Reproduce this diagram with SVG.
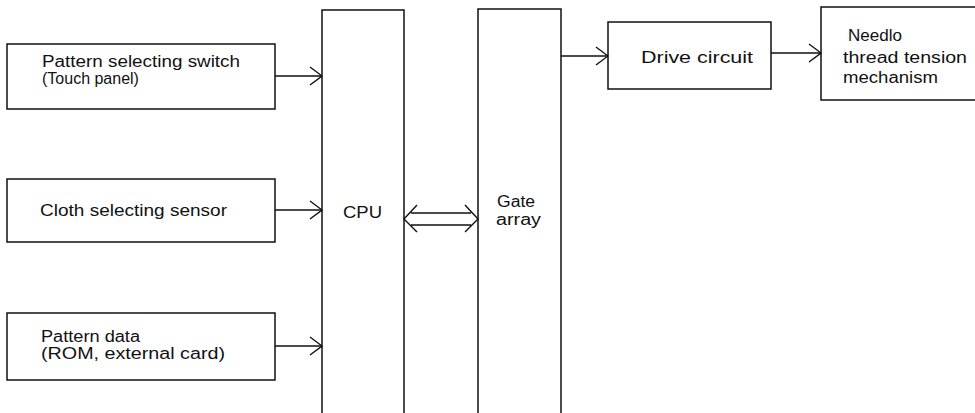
<svg xmlns="http://www.w3.org/2000/svg" width="975" height="413" viewBox="0 0 975 413">
<style>
.box{fill:#fff;stroke:#111;stroke-width:1.5}
.ln{fill:none;stroke:#111;stroke-width:1.4}
text{font-family:"Liberation Sans",Arial,sans-serif;font-size:16px;fill:#111}
</style>
<defs>
<marker id="ah" viewBox="0 0 14 20" refX="13" refY="10" markerWidth="14" markerHeight="20" markerUnits="userSpaceOnUse" orient="auto">
<path d="M1,1 L13,10 L1,19" fill="none" stroke="#111" stroke-width="1.4"/>
</marker>
</defs>
<rect width="975" height="413" fill="#fff"/>
<g id="node-pattern-switch">
<rect class="box" x="7" y="44" width="268" height="65"/>
<text x="42" y="67" textLength="198" lengthAdjust="spacingAndGlyphs">Pattern selecting switch</text>
<text x="42" y="84">(Touch panel)</text>
</g>
<g id="node-cloth-sensor">
<rect class="box" x="7" y="179" width="268" height="63"/>
<text x="40" y="216" textLength="187" lengthAdjust="spacingAndGlyphs">Cloth selecting sensor</text>
</g>
<g id="node-pattern-data">
<rect class="box" x="7" y="313" width="268" height="67"/>
<text x="41" y="342" textLength="99" lengthAdjust="spacingAndGlyphs">Pattern data</text>
<text x="41" y="359" textLength="184" lengthAdjust="spacingAndGlyphs">(ROM, external card)</text>
</g>
<g id="node-cpu">
<rect class="box" x="322" y="10" width="82" height="405"/>
<text x="343" y="218" textLength="39" lengthAdjust="spacingAndGlyphs">CPU</text>
</g>
<g id="node-gate-array">
<rect class="box" x="478" y="9" width="83" height="406"/>
<text x="497" y="207" textLength="38" lengthAdjust="spacingAndGlyphs">Gate</text>
<text x="496" y="225" textLength="45" lengthAdjust="spacingAndGlyphs">array</text>
</g>
<g id="node-drive-circuit">
<rect class="box" x="608" y="22" width="163" height="67"/>
<text x="641" y="63" textLength="112" lengthAdjust="spacingAndGlyphs">Drive circuit</text>
</g>
<g id="node-needle-tension">
<rect class="box" x="821" y="7" width="170" height="93"/>
<text x="848" y="41" textLength="54" lengthAdjust="spacingAndGlyphs">Needlo</text>
<text x="843" y="63" textLength="124" lengthAdjust="spacingAndGlyphs">thread tension</text>
<text x="843" y="83" textLength="95" lengthAdjust="spacingAndGlyphs">mechanism</text>
</g>
<g id="connectors">
<line class="ln" x1="275" y1="76" x2="322" y2="76" marker-end="url(#ah)"/>
<line class="ln" x1="275" y1="210" x2="322" y2="210" marker-end="url(#ah)"/>
<line class="ln" x1="275" y1="346" x2="322" y2="346" marker-end="url(#ah)"/>
<line class="ln" x1="561" y1="56" x2="608" y2="56" marker-end="url(#ah)"/>
<line class="ln" x1="771" y1="53" x2="821" y2="53" marker-end="url(#ah)"/>
<path class="ln" d="M411,213 L471,213 M411,225 L471,225 M417,205 L404,219 L417,232 M465,205 L478,219 L465,232"/>
</g>
</svg>
